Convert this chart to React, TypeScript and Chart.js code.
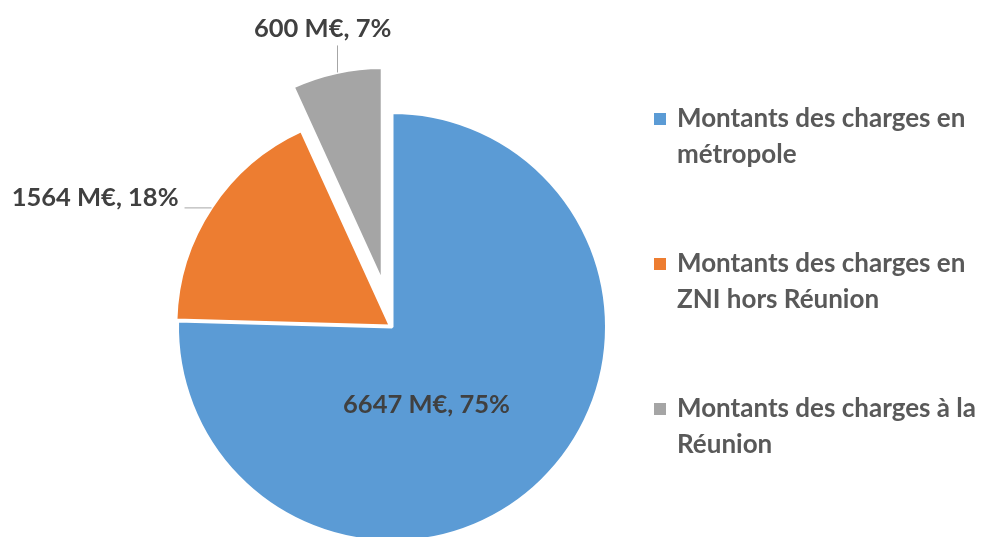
import { useEffect, useRef } from "react";
import { Chart, registerables } from "chart.js";

Chart.register(...registerables);

// ---- data ----
const categories: string[][] = [
  ["Montants des charges en", "métropole"],
  ["Montants des charges en", "ZNI hors Réunion"],
  ["Montants des charges à la", "Réunion"],
];
const amounts: number[] = [6647, 1564, 600];
const unit = "M€";

// ---- style ----
const colors = ["#5B9BD5", "#ED7D31", "#A5A5A5"];
const explodePx = [0, 2, 46];
const LABEL_FONT = "bold 25.5px Lato";
const LEGEND_FONT = "bold 26px Lato";
const LABEL_COLOR = "#404040";
const LEGEND_COLOR = "#595959";
const LEADER_COLOR = "#A6A6A6";

function midOf(arc: any) {
  const p = arc.getProps(["x", "y", "startAngle", "endAngle", "outerRadius"], true);
  const mid = (p.startAngle + p.endAngle) / 2;
  return { ...p, mid };
}

const piePlugin = {
  id: "explodedPie",
  beforeDatasetDraw(chart: any, args: any) {
    const ctx: CanvasRenderingContext2D = chart.ctx;
    const meta = chart.getDatasetMeta(args.index);
    meta.data.forEach((arc: any, i: number) => {
      const p = midOf(arc);
      const off = explodePx[i] || 0;
      ctx.save();
      ctx.translate(Math.cos(p.mid) * off, Math.sin(p.mid) * off);
      arc.draw(ctx);
      ctx.restore();
    });
    return false;
  },
  afterDatasetsDraw(chart: any) {
    const ctx: CanvasRenderingContext2D = chart.ctx;
    const meta = chart.getDatasetMeta(0);
    const vals: number[] = chart.data.datasets[0].data;
    const total = vals.reduce((a, b) => a + b, 0);
    ctx.save();
    ctx.font = LABEL_FONT;
    ctx.fillStyle = LABEL_COLOR;
    ctx.strokeStyle = LEADER_COLOR;
    ctx.lineWidth = 1;
    meta.data.forEach((arc: any, i: number) => {
      const p = midOf(arc);
      const off = explodePx[i] || 0;
      const cx = p.x + Math.cos(p.mid) * off;
      const cy = p.y + Math.sin(p.mid) * off;
      const ex = cx + Math.cos(p.mid) * p.outerRadius;
      const ey = cy + Math.sin(p.mid) * p.outerRadius;
      const text = `${vals[i]} ${unit}, ${Math.round((vals[i] / total) * 100)}%`;
      ctx.textBaseline = "alphabetic";
      if (i === 0) {
        ctx.textAlign = "center";
        ctx.fillText(text, cx + 34.5, cy + 86);
      } else if (i === 1) {
        ctx.beginPath();
        ctx.moveTo(ex, ey + 0.5);
        ctx.lineTo(ex - 27, ey + 0.5);
        ctx.stroke();
        ctx.textAlign = "right";
        ctx.fillText(text, ex - 33, ey - 1);
      } else {
        ctx.beginPath();
        ctx.moveTo(Math.round(ex) + 0.5, ey);
        ctx.lineTo(Math.round(ex) + 0.5, ey - 27);
        ctx.stroke();
        ctx.textAlign = "center";
        ctx.fillText(text, ex - 14, ey - 35);
      }
    });
    ctx.restore();
  },
  afterDraw(chart: any) {
    const ctx: CanvasRenderingContext2D = chart.ctx;
    const labels: string[][] = chart.data.labels;
    const bg: string[] = chart.data.datasets[0].backgroundColor;
    const bases = [127, 272, 417];
    ctx.save();
    ctx.font = LEGEND_FONT;
    ctx.textAlign = "left";
    ctx.textBaseline = "alphabetic";
    labels.forEach((lines, i) => {
      const b = bases[i];
      ctx.fillStyle = bg[i];
      ctx.fillRect(654, b - 14, 12, 12);
      ctx.fillStyle = LEGEND_COLOR;
      lines.forEach((ln, k) => ctx.fillText(ln, 677, b + k * 36));
    });
    ctx.restore();
  },
};

export default function App() {
  const ref = useRef<HTMLCanvasElement | null>(null);
  useEffect(() => {
    if (!ref.current) return;
    const chart = new Chart(ref.current, {
      type: "pie",
      data: {
        labels: categories,
        datasets: [
          {
            data: amounts,
            backgroundColor: colors,
            borderColor: "#ffffff",
            borderWidth: 3,
            radius: 214.5,
          } as any,
        ],
      },
      options: {
        responsive: false,
        maintainAspectRatio: false,
        animation: false,
        layout: { padding: { left: 0, right: 198, top: 0, bottom: 6 } },
        plugins: {
          legend: { display: false },
          tooltip: { enabled: false },
        },
      },
      plugins: [piePlugin],
    });
    return () => chart.destroy();
  }, []);
  return (
    <div
      style={{
        position: "fixed",
        left: 0,
        top: 0,
        width: 982,
        height: 537,
        overflow: "hidden",
        background: "#ffffff",
      }}
    >
      <canvas ref={ref} width={982} height={660} style={{ display: "block" }} />
    </div>
  );
}
